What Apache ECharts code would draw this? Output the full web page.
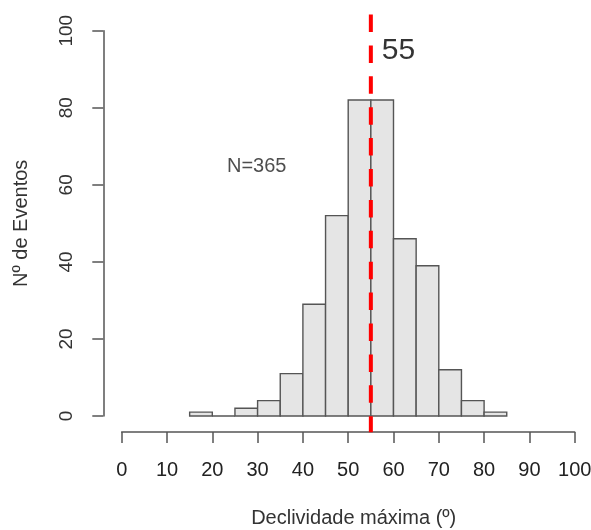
<!DOCTYPE html>
<html>
<head>
<meta charset="utf-8">
<script src="https://cdn.jsdelivr.net/npm/echarts@6/dist/echarts.min.js"></script>
<style>
html,body{margin:0;padding:0;background:#fff;}
#c{width:591px;height:530px;}
</style>
</head>
<body>
<div id="c"></div>
<script>
// Histogram bins (degrees) and counts
const binStarts = [15, 20, 25, 30, 35, 40, 45, 50, 55, 60, 65, 70, 75, 80];
const binWidth = 5;
const counts    = [1, 0, 2, 4, 11, 29, 52, 82, 82, 46, 39, 12, 4, 1];
const xTicks = [0, 10, 20, 30, 40, 50, 60, 70, 80, 90, 100];
const yTicks = [0, 20, 40, 60, 80, 100];
const refValue = 55;               // red dashed line position
const refLineSpan = [104.2, -4.2]; // vertical extent of the dashed line (y units)
const nLabel = 'N=365';
const nLabelPos = [29.8, 64.7];
const refLabel = '55';
const refLabelPos = [61.1, 94.9];
const xTitle = 'Declividade máxima (º)';
const yTitle = 'Nº de Eventos';

const FONT = '"Liberation Sans", Arial, sans-serif';
const histData = binStarts.map((s, i) => [s, s + binWidth, counts[i]]);

const chart = echarts.init(document.getElementById('c'), null, {renderer: 'canvas'});
chart.setOption({
  animation: false,
  backgroundColor: '#ffffff',
  grid: {left: 121.7, top: 30.7, width: 453, height: 385.3, containLabel: false, outerBoundsMode: 'none'},
  xAxis: {
    type: 'value', min: 0, max: 100, interval: 10,
    offset: 16,
    splitLine: {show: false},
    axisLine: {show: true, onZero: false, lineStyle: {color: '#555', width: 1.5}},
    axisTick: {show: true, length: 11, lineStyle: {color: '#555', width: 1.5}},
    axisLabel: {
      show: true, margin: 28, color: '#222', fontSize: 20, fontFamily: FONT,
      formatter: v => xTicks.includes(v) ? String(v) : ''
    },
    name: xTitle, nameLocation: 'middle', nameGap: 76,
    nameTextStyle: {color: '#333', fontSize: 20, fontFamily: FONT, padding: [0, 0, 0, 11]}
  },
  yAxis: {
    type: 'value', min: 0, max: 100, interval: 20,
    offset: 18.4,
    splitLine: {show: false},
    axisLine: {show: true, onZero: false, lineStyle: {color: '#555', width: 1.5}},
    axisTick: {show: true, length: 11, lineStyle: {color: '#555', width: 1.5}},
    axisLabel: {
      show: true, rotate: 90, margin: 27, color: '#333', fontSize: 19, fontFamily: FONT,
      formatter: v => yTicks.includes(v) ? String(v) : ''
    },
    name: yTitle, nameLocation: 'middle', nameGap: 72, nameRotate: 90,
    nameTextStyle: {color: '#333', fontSize: 20, fontFamily: FONT}
  },
  series: [
    {
      type: 'custom',
      data: histData,
      clip: false,
      encode: {x: [0, 1], y: 2},
      renderItem: function (params, api) {
        const p0 = api.coord([api.value(0), api.value(2)]);
        const p1 = api.coord([api.value(1), 0]);
        return {
          type: 'rect',
          shape: {x: p0[0], y: p0[1], width: p1[0] - p0[0], height: p1[1] - p0[1]},
          style: {fill: '#e5e5e5', stroke: '#555', lineWidth: 1.4}
        };
      },
      z: 2
    },
    {
      type: 'line',
      data: [[refValue, refLineSpan[0]], [refValue, refLineSpan[1]]],
      clip: false,
      symbol: 'none',
      lineStyle: {color: '#ff0000', width: 4, type: [17.5, 13.4]},
      z: 5
    },
    {
      type: 'scatter',
      symbolSize: 0,
      clip: false,
      data: [
        {name: nLabel, value: nLabelPos, label: {fontSize: 20, color: '#222'}},
        {name: refLabel, value: refLabelPos, label: {fontSize: 30, color: '#000'}}
      ],
      label: {show: true, position: 'inside', fontFamily: FONT, formatter: p => p.name},
      z: 6
    }
  ]
});
</script>
</body>
</html>
